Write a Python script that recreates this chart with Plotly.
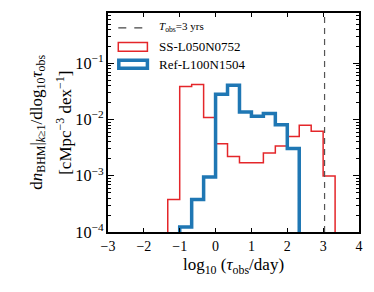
import numpy as np
import plotly.graph_objects as go

# ---------------- data ----------------
bin_edges = [-4/3, -1, -2/3, -1/3, 0, 1/3, 2/3, 1, 4/3, 5/3, 2, 7/3, 8/3, 3, 10/3]
ss_values = [3.8e-4, 0.039, 0.042, 0.0109, 0.0037, 0.0022, 0.0017, 0.0017,
             0.00255, 0.0034, 0.0050, 0.0079, 0.0062, 0.00099]
ref_values = [0, 1.23e-4, 3.8e-4, 9.5e-4, 0.0283, 0.0409, 0.0137, 0.0115,
              0.0128, 0.0081, 0.00305, 0, 0, 0]
series_names = ["SS-L050N0752", "Ref-L100N1504"]
t_obs_years = 3
x_ticks = [-3, -2, -1, 0, 1, 2, 3, 4]

RED = "#e4262a"
BLUE = "#1f77b4"
FONT = "Liberation Serif"
FLOOR = 1e-8


def step_xy(edges, vals):
    v = [x if x > 0 else FLOOR for x in vals]
    xs = [edges[0]] + list(edges)
    ys = [FLOOR] + v + [FLOOR]
    return xs, ys


fig = go.Figure()
for vals, name, col, w in [(ss_values, series_names[0], RED, 1.5),
                           (ref_values, series_names[1], BLUE, 3.5)]:
    xs, ys = step_xy(bin_edges, vals)
    fig.add_trace(go.Scatter(x=xs, y=ys, mode="lines", name=name,
                             line=dict(color=col, width=w, shape="hv"),
                             showlegend=False, hoverinfo="skip"))

# T_obs = 3 yrs vertical line
x_tobs = np.log10(t_obs_years * 365.25)
fig.add_shape(type="line", xref="x", yref="paper", x0=x_tobs, x1=x_tobs, y0=0, y1=1,
              line=dict(color="#555555", width=1.2, dash="6px,5px"))

# manual legend (matplotlib style)
fig.add_shape(type="line", xref="paper", yref="paper", x0=0.041, x1=0.157, y0=0.932, y1=0.932,
              line=dict(color="#444444", width=1.2, dash="8px,8px"))
fig.add_shape(type="rect", xref="paper", yref="paper", x0=0.041, x1=0.157, y0=0.825, y1=0.865,
              line=dict(color=RED, width=1.5), fillcolor="rgba(0,0,0,0)")
fig.add_shape(type="rect", xref="paper", yref="paper", x0=0.043, x1=0.157, y0=0.748, y1=0.784,
              line=dict(color=BLUE, width=3.5), fillcolor="rgba(0,0,0,0)")
legend_texts = ["<i>T</i><sub>obs</sub>=3 yrs", series_names[0], series_names[1]]
for txt, yy, fs in zip(legend_texts, [0.935, 0.845, 0.766], [11, 13, 13]):
    fig.add_annotation(text=txt, xref="paper", yref="paper", x=0.196, y=yy,
                       xanchor="left", yanchor="middle", showarrow=False,
                       font=dict(family=FONT, size=fs, color="black"))

# y-axis title (two lines as annotations)
fig.add_annotation(text="d<i>n</i><sub>BHM</sub>|<sub><i>k</i>≥1</sub>/dlog<sub>10</sub><i>τ</i><sub>obs</sub>",
                   xref="paper", yref="paper", x=-0.282, y=0.5, textangle=-90,
                   xanchor="center", yanchor="middle", showarrow=False,
                   font=dict(family=FONT, size=17, color="black"))
fig.add_annotation(text="[cMpc<sup>−3</sup> dex<sup>−1</sup>]",
                   xref="paper", yref="paper", x=-0.178, y=0.5, textangle=-90,
                   xanchor="center", yanchor="middle", showarrow=False,
                   font=dict(family=FONT, size=17, color="black"))

fig.update_layout(
    width=374, height=292,
    margin=dict(l=108, r=15, t=13, b=60),
    paper_bgcolor="white", plot_bgcolor="white",
    font=dict(family=FONT, color="black"),
    showlegend=False,
    xaxis=dict(range=[-3, 4], tickvals=x_ticks, ticktext=[str(t).replace("-", "−") for t in x_ticks],
               ticks="inside", ticklen=4, tickwidth=1, tickcolor="black",
               showline=True, linecolor="black", linewidth=1.5, mirror="allticks",
               showgrid=False, zeroline=False, tickfont=dict(size=14),
               title=dict(text="log<sub>10</sub> (<i>τ</i><sub>obs</sub>/day)",
                          font=dict(size=17), standoff=6)),
    yaxis=dict(type="log", range=[-4, -0.103], dtick=1, exponentformat="power",
               ticks="inside", ticklen=6, tickwidth=1, tickcolor="black",
               minor=dict(ticks="inside", ticklen=3, tickwidth=0.8, tickcolor="black", dtick="D1",
                          showgrid=False),
               showline=True, linecolor="black", linewidth=1.5, mirror="allticks",
               showgrid=False, zeroline=False, tickfont=dict(size=13)),
)

fig.write_html("out.html", config={"displayModeBar": False},
               post_script="document.body.style.margin='0';")
